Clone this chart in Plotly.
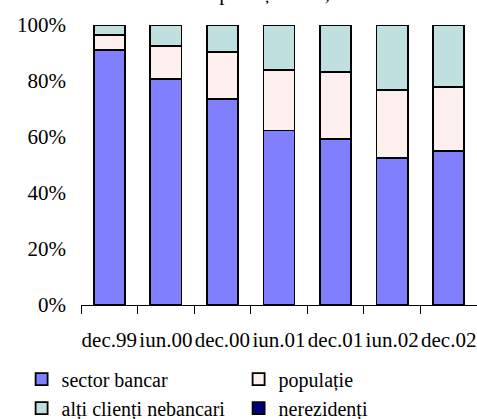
import plotly.graph_objects as go

# Periods and share of each holder category (% of total)
periods = ["dec.99", "iun.00", "dec.00", "iun.01", "dec.01", "iun.02", "dec.02"]
sector_bancar = [91.1, 80.6, 73.5, 62.3, 59.2, 52.6, 55.0]
populatie = [5.3, 11.9, 17.0, 21.6, 24.0, 24.1, 22.9]
alti_clienti = [3.6, 7.5, 9.5, 16.1, 16.8, 23.3, 22.1]
nerezidenti = [0.0, 0.0, 0.0, 0.0, 0.0, 0.0, 0.0]

series = [
    ("sector bancar", sector_bancar, "#8080FF"),
    ("populație", populatie, "#FFF0F0"),
    ("alți clienți nebancari", alti_clienti, "#BFE0DF"),
    ("nerezidenți", nerezidenti, "#000080"),
]

font_family = "Times New Roman"

fig = go.Figure()
for name, vals, color in series:
    fig.add_trace(go.Bar(
        x=periods, y=vals, name=name,
        marker=dict(color=color, line=dict(color="black", width=1.8)),
    ))

fig.update_layout(
    barmode="stack",
    bargap=0.45,
    width=477, height=419,
    margin=dict(l=81, r=0, t=25, b=114, autoexpand=False),
    paper_bgcolor="white", plot_bgcolor="white",
    font=dict(family=font_family, size=21, color="black"),
    showlegend=True,
    legend=dict(
        orientation="h",
        x=-0.15, xanchor="left",
        y=-0.195, yanchor="top",
        font=dict(size=20),
        entrywidth=172, entrywidthmode="pixels",
        itemwidth=30,
        traceorder="normal",
        bgcolor="rgba(0,0,0,0)",
    ),
    annotations=[dict(
        text="Structura pe deținători, %",
        xref="paper", yref="paper", x=0.415, y=1.063,
        xanchor="center", yanchor="bottom", showarrow=False,
        font=dict(size=21, family=font_family),
    )],
)

fig.update_xaxes(
    showline=True, linecolor="black", linewidth=1,
    ticks="outside", tickson="boundaries", ticklen=8, tickcolor="black",
    ticklabelstandoff=16, tickangle=0, automargin=False,
    showgrid=False,
)
fig.update_yaxes(
    range=[0, 100], tickvals=[0, 20, 40, 60, 80, 100],
    ticktext=["0%", "20%", "40%", "60%", "80%", "100%"],
    showline=False, showgrid=False, zeroline=False,
    ticks="", ticklabelstandoff=14, automargin=False,
)

fig.write_html("out.html")
